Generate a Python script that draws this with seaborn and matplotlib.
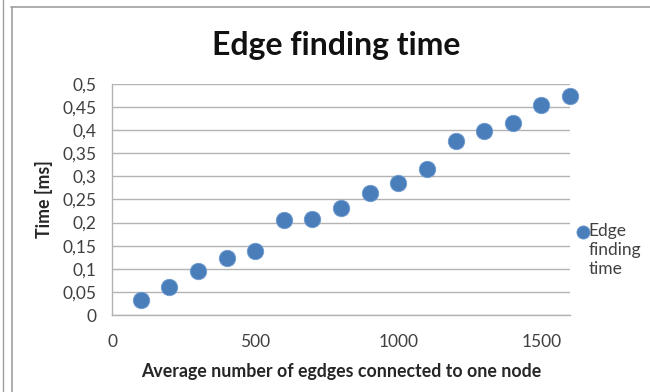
import matplotlib
matplotlib.use("Agg")
import matplotlib.pyplot as plt
from matplotlib.lines import Line2D
from matplotlib.ticker import FuncFormatter, MultipleLocator
import seaborn as sns
import pandas as pd

# Average number of edges per node and the measured edge finding time
edges_per_node = [100, 200, 300, 400, 500, 600, 700, 800, 900, 1000,
                  1100, 1200, 1300, 1400, 1500, 1600]
time_ms = [0.032, 0.061, 0.095, 0.123, 0.139, 0.205, 0.207, 0.232, 0.263, 0.286,
           0.315, 0.376, 0.398, 0.416, 0.454, 0.474]
series_name = "Edge\nfinding\ntime"

df = pd.DataFrame({"edges": edges_per_node, "time": time_ms})

sns.set_theme(style="white")
plt.rcParams["font.family"] = ["Lato", "DejaVu Sans"]

fig = plt.figure(figsize=(6.5, 3.92), dpi=100)
ax = fig.add_axes([112 / 650, 1 - 315 / 392, (570 - 112) / 650, (315 - 84) / 392])

grid_col = "#b3b3b3"
blue = "#4a7ebb"

sns.scatterplot(data=df, x="edges", y="time", ax=ax, s=140, color=blue,
                edgecolor="#6f9bd0", linewidth=0.6, label=series_name, zorder=3,
                clip_on=False)

ax.set_xlim(0, 1600)
ax.set_ylim(0, 0.5)
ax.xaxis.set_major_locator(MultipleLocator(500))
ax.yaxis.set_major_locator(MultipleLocator(0.05))


def comma_fmt(v, _):
    s = f"{v:.2f}".rstrip("0").rstrip(".")
    return s.replace(".", ",")


ax.yaxis.set_major_formatter(FuncFormatter(comma_fmt))
ax.xaxis.set_major_formatter(FuncFormatter(lambda v, _: f"{int(round(v))}"))

ax.grid(axis="y", color=grid_col, linewidth=1.0)
ax.set_axisbelow(True)
for side in ["top", "right"]:
    ax.spines[side].set_visible(False)
for side in ["left", "bottom"]:
    ax.spines[side].set_color(grid_col)
    ax.spines[side].set_linewidth(1.0)

ax.tick_params(axis="both", direction="out", length=5, width=1.0, color=grid_col,
               labelsize=12.5, labelcolor="#404040")
ax.tick_params(axis="y", pad=6)
ax.tick_params(axis="x", pad=9)

ax.set_xlabel("Average number of egdges connected to one node", fontsize=12.8,
              fontweight="bold", color="#262626", labelpad=9)
ax.set_ylabel("Time [ms]", fontsize=12.8, fontweight="bold", color="#262626",
              labelpad=7)

fig.text(336 / 650, 1 - 45 / 392, "Edge finding time", ha="center", va="center",
         fontsize=23, fontweight="bold", color="#111111")

# marker raised to sit beside the first line of the wrapped label
leg = ax.legend(loc="upper left", bbox_to_anchor=(573 / 650, 1 - 223 / 392),
                bbox_transform=fig.transFigure, frameon=False, fontsize=12.5,
                handletextpad=-0.3, borderaxespad=0, markerscale=0.8,
                handlelength=1.2, borderpad=0, scatterpoints=1,
                scatteryoffsets=[2.0])
for t in leg.get_texts():
    t.set_color("#404040")
    t.set_linespacing(1.25)

# Chart frame lines
frame_col = "#a0a0a0"
fig.add_artist(Line2D([11 / 650, 1], [1 - 7 / 392, 1 - 7 / 392],
                      transform=fig.transFigure, color=frame_col, linewidth=1.2))
fig.add_artist(Line2D([12 / 650, 12 / 650], [0, 1 - 7 / 392],
                      transform=fig.transFigure, color=frame_col, linewidth=1.2))
fig.add_artist(Line2D([3 / 650, 3 / 650], [0, 1],
                      transform=fig.transFigure, color=frame_col, linewidth=1.0))

fig.savefig("out.png", dpi=100, facecolor="white")
